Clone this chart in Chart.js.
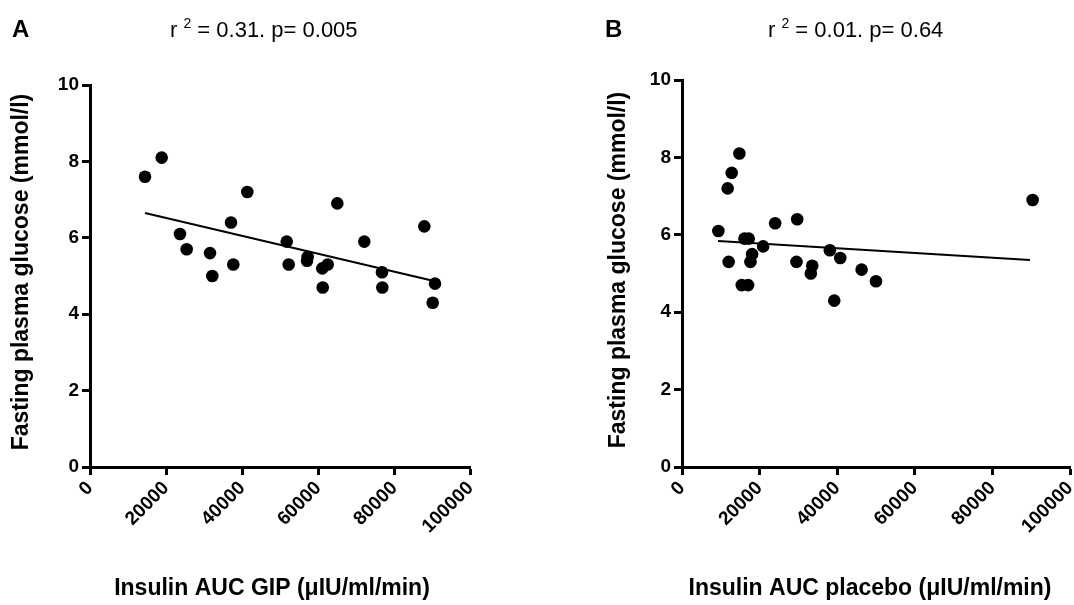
<!DOCTYPE html>
<html>
<head>
<meta charset="utf-8">
<script src="https://cdn.jsdelivr.net/npm/chart.js@4.4.1/dist/chart.umd.min.js"></script>
<style>
  html, body { margin: 0; background: #fff; overflow: hidden; }
  #wrap { position: relative; width: 1074px; height: 605px; overflow: hidden; }
  canvas { position: absolute; top: 0; }
  #chartA { left: 0; }
  #chartB { left: 537px; }
</style>
</head>
<body>
<div id="wrap">
  <canvas id="chartA" width="537" height="605"></canvas>
  <canvas id="chartB" width="570" height="605"></canvas>
</div>
<script>
// panel A: insulin AUC after GIP vs fasting glucose
const gipInsulin = [14450, 18840, 23650, 25410, 31540, 32140, 37060, 37660, 41340, 51700, 52220, 57210,
                    57030, 61050, 62470, 61160, 65000, 72090, 76740, 76820, 87860, 90670, 90060];
const gipGlucose = [7.6, 8.1, 6.1, 5.7, 5.6, 5.0, 6.4, 5.3, 7.2, 5.9, 5.3, 5.5,
                    5.4, 5.2, 5.3, 4.7, 6.9, 5.9, 5.1, 4.7, 6.3, 4.8, 4.3];
const gipFitX = [14450, 90670];
const gipFitY = [6.65, 4.86];

// panel B: insulin AUC after placebo vs fasting glucose
const placeboInsulin = [9370, 11770, 12810, 14790, 12030, 16090, 17200, 18070, 17640, 15390, 17040, 20910,
                        24010, 29690, 29510, 33570, 33200, 38110, 40790, 39240, 46290, 49990, 90370];
const placeboGlucose = [6.1, 7.2, 7.6, 8.1, 5.3, 5.9, 5.9, 5.5, 5.3, 4.7, 4.7, 5.7,
                        6.3, 6.4, 5.3, 5.2, 5.0, 5.6, 5.4, 4.3, 5.1, 4.8, 6.9];
const placeboFitX = [9290, 89670];
const placeboFitY = [5.84, 5.35];

const xTicks = [0, 20000, 40000, 60000, 80000, 100000];
const yTicks = [0, 2, 4, 6, 8, 10];

const FONT = '"Liberation Sans", Arial, Helvetica, sans-serif';

function textPlugin(o) {
  return {
    id: 'texts',
    afterDraw(chart) {
      const ctx = chart.ctx;
      ctx.save();
      ctx.fillStyle = '#000';
      ctx.textBaseline = 'alphabetic';
      ctx.textAlign = 'left';
      ctx.font = 'bold 24px ' + FONT;
      ctx.fillText(o.letter, o.letterX, 37);

      // r² title with raised 2
      ctx.font = '22px ' + FONT;
      let x = o.titleX;
      ctx.fillText('r ', x, 37);
      x += ctx.measureText('r ').width;
      ctx.font = '14px ' + FONT;
      ctx.fillText('2', x, 28);
      x += ctx.measureText('2').width;
      ctx.font = '22px ' + FONT;
      ctx.fillText(o.stats, x, 37);

      ctx.font = 'bold 23px ' + FONT;
      ctx.textAlign = 'center';
      ctx.textBaseline = 'middle';
      ctx.fillText(o.xTitle, o.xTitleX, 589);

      ctx.translate(o.yTitleX, o.yTitleY);
      ctx.rotate(-Math.PI / 2);
      ctx.fillText('Fasting plasma glucose (mmol/l)', 0, 0);
      ctx.restore();
    }
  };
}

function panel(id, o) {
  const tickFont = { family: FONT, size: 19, weight: 'bold' };
  return new Chart(document.getElementById(id), {
    type: 'scatter',
    data: {
      datasets: [
        {
          data: o.xs.map((x, i) => ({ x: x, y: o.ys[i] })),
          backgroundColor: '#000',
          borderWidth: 0,
          pointRadius: 6.3,
          pointHoverRadius: 6.3
        },
        {
          type: 'line',
          data: o.fitX.map((x, i) => ({ x: x, y: o.fitY[i] })),
          borderColor: '#000',
          borderWidth: 2,
          pointRadius: 0,
          fill: false
        }
      ]
    },
    options: {
      responsive: false,
      animation: false,
      events: [],
      layout: { padding: { left: 0, top: o.top, right: o.right, bottom: 0 } },
      plugins: { legend: { display: false }, tooltip: { enabled: false } },
      scales: {
        x: {
          type: 'linear', min: 0, max: 100000,
          afterBuildTicks: s => { s.ticks = xTicks.map(v => ({ value: v })); },
          afterFit: s => { s.height = 605 - 467; },
          grid: { drawOnChartArea: false, tickLength: 8, tickWidth: 3, tickColor: '#000' },
          border: { color: '#000', width: 3 },
          ticks: { color: '#000', font: tickFont, minRotation: 45, maxRotation: 45, padding: 2,
                   callback: v => String(v) }
        },
        y: {
          type: 'linear', min: 0, max: 10,
          afterBuildTicks: s => { s.ticks = yTicks.map(v => ({ value: v })); },
          afterFit: s => { s.width = o.left; },
          grid: { drawOnChartArea: false, tickLength: 8, tickWidth: 3, tickColor: '#000' },
          border: { color: '#000', width: 3 },
          ticks: { color: '#000', font: tickFont, padding: 3, callback: v => String(v) }
        }
      }
    },
    plugins: [textPlugin(o)]
  });
}

panel('chartA', {
  xs: gipInsulin, ys: gipGlucose, fitX: gipFitX, fitY: gipFitY,
  left: 90, right: 66.5, top: 85,
  letter: 'A', letterX: 12, titleX: 170, stats: ' = 0.31. p= 0.005',
  xTitle: 'Insulin AUC GIP (\u03bcIU/ml/min)', xTitleX: 272, yTitleX: 22, yTitleY: 272
});

panel('chartB', {
  xs: placeboInsulin, ys: placeboGlucose, fitX: placeboFitX, fitY: placeboFitY,
  left: 145, right: 37, top: 80,
  letter: 'B', letterX: 68, titleX: 231, stats: ' = 0.01. p= 0.64',
  xTitle: 'Insulin AUC placebo (\u03bcIU/ml/min)', xTitleX: 333, yTitleX: 82, yTitleY: 270
});
</script>
</body>
</html>
